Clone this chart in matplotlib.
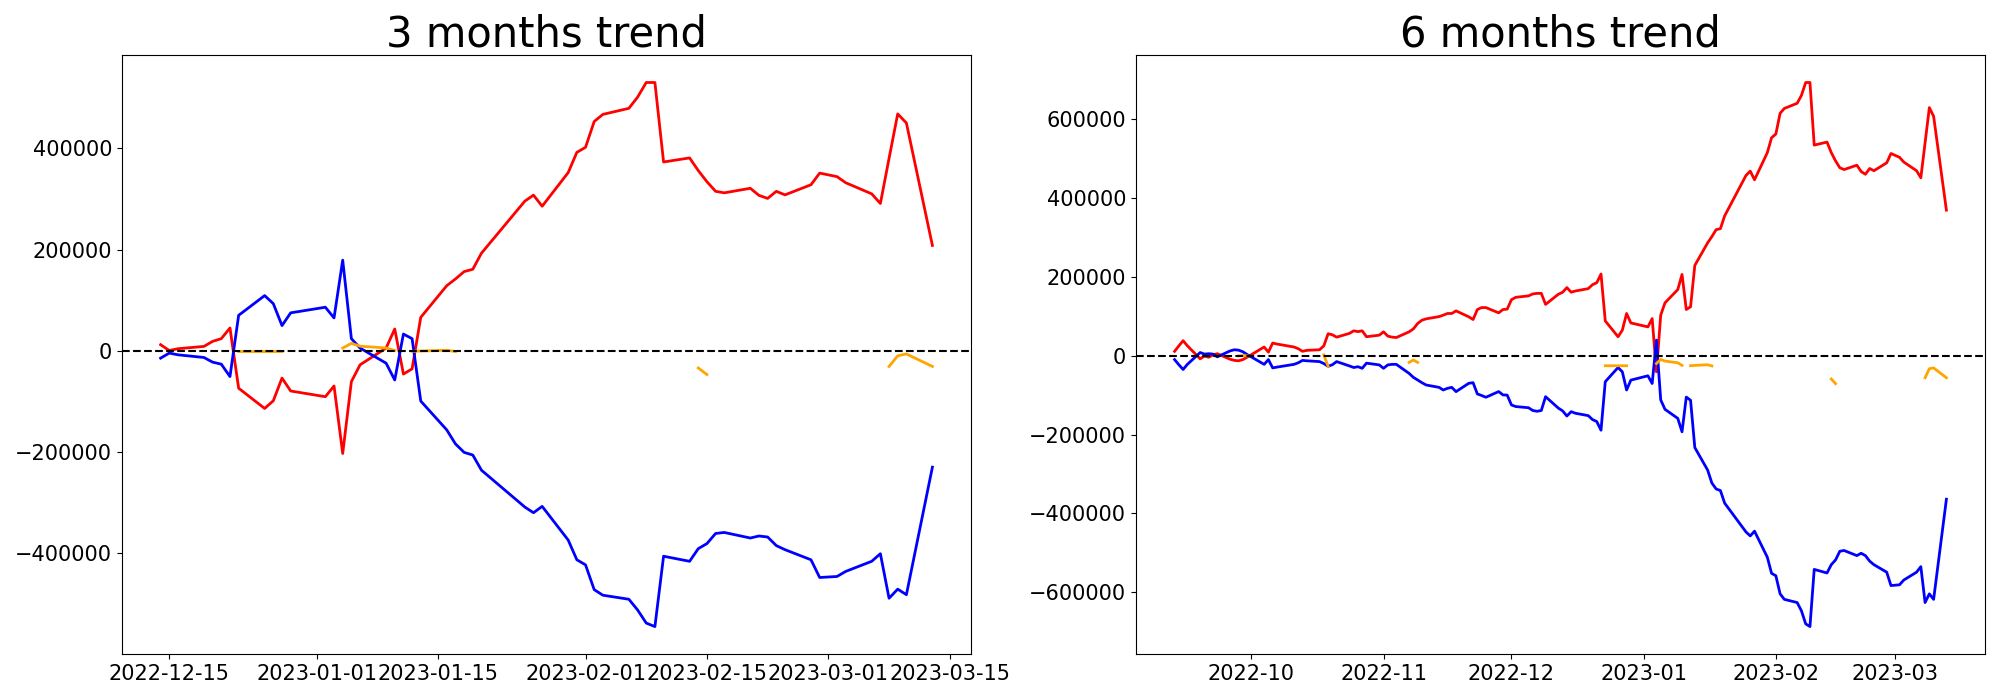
import numpy as np
import pandas as pd
import matplotlib
matplotlib.use('Agg')
import matplotlib.pyplot as plt

# trading days (KRX closed on these)
holidays = ['2022-10-03', '2022-10-10', '2022-12-30', '2023-01-23', '2023-01-24', '2023-03-01']
days_6m = pd.bdate_range('2022-09-13', '2023-03-13', freq='C', holidays=holidays)
days_3m = pd.bdate_range('2022-12-14', '2023-03-13', freq='C', holidays=holidays)

# values in thousands
red_6m = [
    11, 25, 38, 25, -8, -1, -4, 2, 5, -9, -12, -13, -10, -4,                                  # sep
    22, 9, 32, 29.5, 22, 17.7, 11, 13.5, 15, 25, 55.6, 53, 47, 56.5, 63, 61, 63, 48, 52,       # oct
    60.5, 49.6, 47, 46, 60.5, 68, 81.6, 90, 93.4, 99, 102.7, 107, 107, 113.6, 98.5, 91.7,
    117, 122, 122, 108.6, 117, 118,                                                           # nov
    142, 148, 151.6, 156.6, 158, 158, 130, 155.8, 160.8, 172.6, 161, 164, 170, 180, 185,
    207, 88, 48, 64.7, 107, 83,                                                               # dec
    73, 94, -41, 102.7, 134, 167.6, 206, 117, 124, 229, 286, 302, 319.6, 322, 354.6,
    457, 468, 446, 514.7, 552.7,                                                              # jan
    562, 614.6, 627, 640, 660, 692.7, 692.7, 534, 541.6, 515, 494, 476.6, 471.9, 483,
    467, 460, 474.7, 469, 489, 512.7,                                                         # feb
    503, 491, 469, 451, 540, 629, 607, 369,                                                   # mar
]
blue_6m = [
    -10, -23, -35, -22, 8, 4, 5, 4, -3, 12, 15, 14, 10, 3,
    -22, -10, -31, -29, -22, -18, -12, -13, -15, -20, -27, -23, -15, -26, -30, -28, -32, -19, -23.4,
    -32, -23.4, -22, -22, -45, -55, -61.7, -68.5, -74.4, -80.3, -87, -82.8, -80.3, -91.2, -70, -68.5,
    -97, -101, -105.5, -91, -99.5, -100,
    -125, -129, -132, -139, -141, -139, -104, -133, -140, -153, -142, -146, -152, -162, -167,
    -189, -66, -30, -41, -87, -62,
    -51, -70.5, 39.5, -112, -136, -159, -193, -105, -113, -233, -290, -323, -338, -342, -374,
    -447, -457, -445, -511, -552,
    -558, -604, -618, -626, -647, -680, -687, -542, -551, -530, -518, -496, -494, -507,
    -501, -507, -521, -530, -549, -583,
    -581, -569, -549, -535, -626, -604, -618, -364,
]
orange_6m = {
    '2022-09-28': -0.5, '2022-09-29': 0.5, '2022-09-30': -0.5,
    '2022-10-18': 2, '2022-10-19': -27,
    '2022-11-07': -17, '2022-11-08': -11, '2022-11-09': -17,
    '2022-12-23': -25.5, '2022-12-26': -25.5, '2022-12-27': -25.5, '2022-12-28': -25.5,
    '2023-01-04': -20, '2023-01-05': -9.4, '2023-01-06': -13.7, '2023-01-09': -18, '2023-01-10': -24.6,
    '2023-01-12': -25.5, '2023-01-13': -24.6, '2023-01-16': -23, '2023-01-17': -26,
    '2023-02-14': -59, '2023-02-15': -71,
    '2023-03-08': -56, '2023-03-09': -33, '2023-03-10': -31, '2023-03-13': -56,
}

red_3m = [
    12, 0.5, 4, 8.6, 18.6, 23.9, 45, -74, -114, -98.7, -54, -79.5,                            # dec
    -90.8, -69.6, -203, -61, -27.8, 5.3, 43, -46, -35.8, 66, 128.6, 141.8, 156.4, 161, 192.8,
    295.6, 307.5, 285.6, 352, 392,                                                            # jan
    402, 453, 467, 479, 501, 530, 530, 373, 381, 356, 334, 315, 312, 321, 307, 301, 315, 308,
    328, 351,                                                                                 # feb
    344, 332, 310, 291, 380, 468, 450, 208,                                                   # mar
]
blue_3m = [
    -14.6, -4.6, -8, -13.3, -22.5, -26.5, -51, 70, 109, 93, 49.7, 74.9,
    86, 64.9, 179, 23.9, 5.3, -24.5, -57.7, 33, 23.9, -99.4, -156.4, -184, -200.8, -206, -236,
    -308.8, -320, -307.5, -374, -413,
    -423, -472, -483, -491, -512, -538, -545, -406, -416, -391, -381, -361, -359, -370, -366,
    -368, -385, -393, -413, -448,
    -446, -436, -416, -401, -489, -471, -482, -230,
]
orange_3m = {
    '2022-12-23': -1.5, '2022-12-26': -1.5, '2022-12-27': -1.5, '2022-12-28': -1.5,
    '2023-01-04': 5.3, '2023-01-05': 14.6, '2023-01-06': 9, '2023-01-09': 5.5, '2023-01-10': 0.5,
    '2023-01-12': -1, '2023-01-13': -0.5, '2023-01-16': 1, '2023-01-17': -1.5,
    '2023-02-14': -34, '2023-02-15': -47,
    '2023-03-08': -31, '2023-03-09': -10, '2023-03-10': -6.3, '2023-03-13': -31,
}

titles = ['3 months trend', '6 months trend']


def make_series(days, red, blue, orange):
    df = pd.DataFrame({'red': red, 'blue': blue}, index=days) * 1000
    o = pd.Series(orange)
    o.index = pd.to_datetime(o.index)
    df['orange'] = o.reindex(days) * 1000
    return df


data = [make_series(days_3m, red_3m, blue_3m, orange_3m),
        make_series(days_6m, red_6m, blue_6m, orange_6m)]

fig = plt.figure(figsize=(20, 7), dpi=100)
boxes = [[0.061, 0.066, 0.4245, 0.855], [0.568, 0.066, 0.4245, 0.855]]

for df, title, box in zip(data, titles, boxes):
    ax = fig.add_axes(box)
    ax.plot(df.index, df['red'], color='red', lw=2)
    ax.plot(df.index, df['blue'], color='blue', lw=2)
    ax.plot(df.index, df['orange'], color='orange', lw=2)
    ax.axhline(0, color='black', ls='--', lw=1.5)
    ax.set_title(title, fontsize=30)
    ax.tick_params(labelsize=15)

fig.savefig('out.png', dpi=100)
